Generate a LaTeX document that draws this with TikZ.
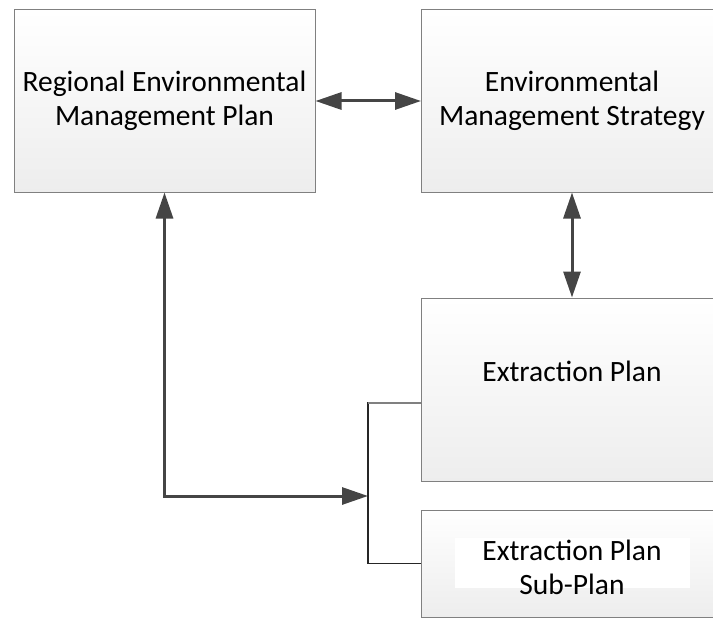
\documentclass[tikz,border=0pt]{standalone}
\usepackage{fontspec}
\setmainfont{Carlito}
\usetikzlibrary{arrows.meta}
\definecolor{linkgray}{HTML}{454545}
\definecolor{boxedge}{HTML}{808080}
\begin{document}
\begin{tikzpicture}[x=1pt,y=-1pt,
  box/.style={draw=boxedge, line width=1pt, top color=white, bottom color=black!7,
    minimum width=301pt, inner sep=0pt},
  lbl/.style={font=\fontsize{29.5}{34}\selectfont, align=center, text=black, inner sep=0pt},
  tip/.tip={Triangle[length=26pt,width=17pt]},
  both/.style={draw=linkgray, line width=3pt, tip-tip},
  bracket/.style={draw=black!85, line width=1.3pt}]
\useasboundingbox (0,0) rectangle (713,618);
\clip (0,0) rectangle (713,618);

% plan boxes
\node[box, minimum height=182pt, lbl] (remp) at (164.5,101)
  {Regional Environmental\\Management Plan};
\node[box, minimum height=182pt, lbl] (ems) at (572,101)
  {Environmental\\Management Strategy};
\node[box, minimum height=183pt] (ep) at (572,389.5) {};
\node[lbl] (ept) at (572,371) {Extraction Plan};
\node[box, minimum height=107pt] (sub) at (571.5,563.5) {};
\node[fill=white, minimum width=235pt, minimum height=50pt, inner sep=0pt] (subbg) at (572.5,563) {};
\node[lbl] (subt) at (572,567) {Extraction Plan\\Sub-Plan};

% junction points of the bracket
\coordinate (jn) at (368,496);
\coordinate (eplevel) at (0,403);
\coordinate (epl) at (ep.west |- eplevel);

% two-way links
\draw[both] (remp) -- (ems);
\draw[both] (ems.south) -- (ems.south |- ep.north);
\draw[both] (remp.south) |- (jn);

% bracket grouping the extraction plan and its sub-plan
\draw[bracket] (epl) -| (jn) |- (sub.west);
\draw[draw=gray, line width=2pt] (epl) -- (epl -| jn);
\end{tikzpicture}
\end{document}
